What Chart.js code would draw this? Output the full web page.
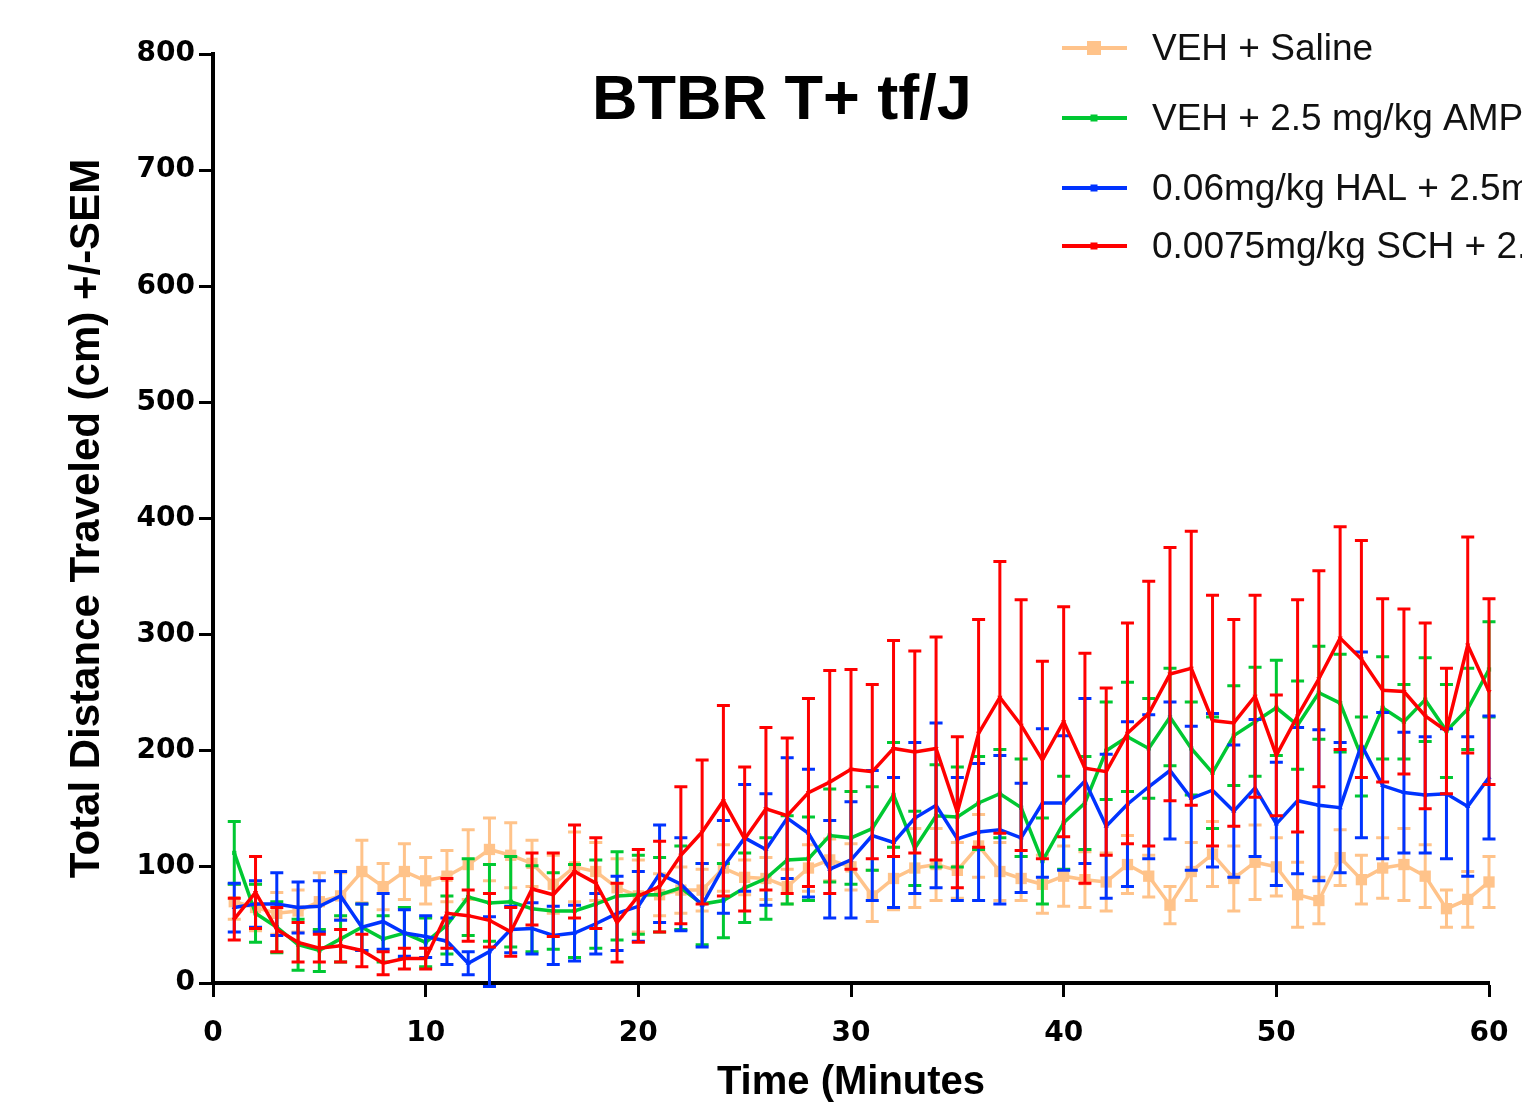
<!DOCTYPE html>
<html><head><meta charset="utf-8">
<script src="https://cdn.jsdelivr.net/npm/chart.js@4.4.1/dist/chart.umd.min.js"></script>
<style>html,body{margin:0;padding:0;background:#fff;overflow:hidden}</style>
</head><body>
<canvas id="c" width="1522" height="1107"></canvas>
<script>
const minutes = [1,2,3,4,5,6,7,8,9,10,11,12,13,14,15,16,17,18,19,20,21,22,23,24,25,26,27,28,29,30,31,32,33,34,35,36,37,38,39,40,41,42,43,44,45,46,47,48,49,50,51,52,53,54,55,56,57,58,59,60];

const seriesLabels = ['VEH + Saline','VEH + 2.5 mg/kg AMP','0.06mg/kg HAL + 2.5mg/kg AMP','0.0075mg/kg SCH + 2.5mg/kg AMP'];

const salineMean = [70,65,60,62,70,75,96,83,96,88, 92,102,115,110,103,85,100,96,82,75, 76,80,80,99,91,90,83,99,106,100, 75,90,99,102,97,118,96,90,85,92, 89,87,102,92,67,96,111,90,104,100, 76,71,108,89,99,102,92,64,72,87];
const salineSem  = [15,20,18,18,25,20,27,20,24,20, 22,30,27,28,20,25,30,25,25,31, 18,20,18,20,15,18,15,20,18,20, 22,27,34,31,24,27,25,19,25,26, 24,25,25,18,16,25,28,28,32,25, 28,20,24,21,26,31,27,16,24,22];

const ampMean = [112,60,48,33,28,38,48,38,43,35, 50,74,69,70,64,62,62,68,75,76, 76,82,68,71,82,90,106,107,127,125, 133,162,116,144,143,155,163,151,105,138, 155,200,212,202,229,202,181,213,225,237, 222,250,241,195,237,225,244,217,236,270];
const ampSem  = [27,25,22,22,18,20,20,20,22,21, 25,33,33,39,37,33,40,38,38,34, 32,36,35,32,30,35,38,36,40,40, 36,45,32,44,43,40,38,42,37,40, 40,42,47,43,42,40,48,43,47,41, 38,40,42,34,44,32,36,40,35,41];

const halMean = [65,68,68,65,66,75,48,53,43,40, 36,17,27,46,47,41,43,51,60,66, 94,85,67,100,125,115,142,129,98,106, 127,121,142,153,124,130,132,125,155,155, 174,135,154,169,183,159,166,148,168,137, 157,153,151,205,170,164,162,163,152,177];
const halSem  = [21,20,27,22,22,21,20,24,20,18, 20,10,30,20,22,25,24,26,32,30, 42,40,36,40,46,48,52,55,42,50, 56,56,65,71,53,59,64,47,64,58, 71,62,71,62,59,62,66,57,59,53, 63,65,56,80,63,52,50,56,60,53];

const schMean = [55,78,46,35,30,32,28,17,21,21, 60,58,54,44,81,76,96,86,52,75, 83,110,130,157,124,150,144,164,173,184, 182,202,199,202,147,215,246,222,192,225, 185,182,215,232,266,271,226,224,247,196, 230,262,297,279,252,251,230,217,291,251];
const schSem  = [18,31,19,17,12,14,14,10,9,9, 30,22,23,21,31,36,40,39,34,40, 39,59,62,82,62,70,67,81,96,86, 75,93,87,96,65,98,117,108,85,99, 99,72,95,114,109,118,108,89,87,52, 100,93,96,102,79,71,80,54,93,80];

const xTicks = [0,10,20,30,40,50,60];
const yTicks = [0,100,200,300,400,500,600,700,800];
const chartTitle = 'BTBR T+ tf/J';
const xTitle = 'Time (Minutes';
const yTitle = 'Total Distance Traveled (cm) +/-SEM';

const colors = ['#FFC38A','#00C832','#0033FF','#FF0000'];
const means = [salineMean, ampMean, halMean, schMean];
const sems = [salineSem, ampSem, halSem, schSem];
const styles = [
  {pointStyle:'rect', radius:8, rot:0, order:3},
  {pointStyle:'rect', radius:3, rot:0, order:2},
  {pointStyle:'triangle', radius:3, rot:0, order:1},
  {pointStyle:'triangle', radius:3, rot:180, order:0}
];

const datasets = means.map((m, k) => ({
  label: seriesLabels[k],
  data: minutes.map((t, i) => ({x: t, y: m[i]})),
  sem: sems[k],
  borderColor: colors[k],
  backgroundColor: colors[k],
  borderWidth: 3.5,
  pointStyle: styles[k].pointStyle,
  pointRadius: styles[k].radius,
  pointRotation: styles[k].rot,
  pointBorderWidth: 0,
  tension: 0,
  order: styles[k].order,
  clip: false
}));

const errorBars = {
  id: 'errorBars',
  beforeDatasetDraw(chart, args) {
    const ds = chart.data.datasets[args.index];
    const ys = chart.scales.y;
    const ctx = chart.ctx;
    ctx.save();
    ctx.strokeStyle = ds.borderColor;
    ctx.lineWidth = 3;
    ctx.lineCap = 'butt';
    args.meta.data.forEach((pt, i) => {
      const m = ds.data[i].y, e = ds.sem[i];
      const yt = ys.getPixelForValue(m + e), yb = ys.getPixelForValue(m - e);
      const x = pt.x, w = 6.5;
      ctx.beginPath();
      ctx.moveTo(x, yt); ctx.lineTo(x, yb);
      ctx.moveTo(x - w, yt); ctx.lineTo(x + w, yt);
      ctx.moveTo(x - w, yb); ctx.lineTo(x + w, yb);
      ctx.stroke();
    });
    ctx.restore();
  }
};

const legendRows = [48, 118, 188, 246];
const customDecor = {
  id: 'customDecor',
  afterDraw(chart) {
    const ctx = chart.ctx;
    ctx.save();
    ctx.fillStyle = '#000';
    ctx.font = 'bold 63px "Liberation Sans", Arial, sans-serif';
    ctx.textBaseline = 'middle';
    ctx.textAlign = 'left';
    ctx.fillText(chartTitle, 592, 102);
    chart.data.datasets.forEach((ds, k) => {
      const y = legendRows[k];
      ctx.strokeStyle = ds.borderColor;
      ctx.lineWidth = 4;
      ctx.beginPath(); ctx.moveTo(1062, y); ctx.lineTo(1127, y); ctx.stroke();
      ctx.fillStyle = ds.borderColor;
      const s = k === 0 ? 14 : 7;
      ctx.fillRect(1094 - s/2, y - s/2, s, s);
      ctx.fillStyle = '#111';
      ctx.font = '37px "Liberation Sans", Arial, sans-serif';
      ctx.fillText(ds.label, 1152, y + 2);
    });
    ctx.restore();
  }
};

const tickFont = {family: '"DejaVu Sans", sans-serif', weight: 'bold', size: 28};
const titleFont = {family: '"Liberation Sans", Arial, sans-serif', weight: 'bold', size: 40};
const yTitleFont = {family: '"Liberation Sans", Arial, sans-serif', weight: 'bold', size: 42};

new Chart(document.getElementById('c'), {
  type: 'line',
  data: {datasets},
  plugins: [errorBars, customDecor],
  options: {
    responsive: false,
    animation: false,
    devicePixelRatio: 1,
    layout: {padding: {left: 0, right: 33, top: 54, bottom: 0}},
    plugins: {legend: {display: false}, title: {display: false}, tooltip: {enabled: false}},
    scales: {
      x: {
        type: 'linear', min: 0, max: 60,
        afterBuildTicks: s => { s.ticks = xTicks.map(v => ({value: v})); },
        ticks: {font: tickFont, color: '#000', padding: 20, maxRotation: 0, autoSkip: false},
        grid: {drawOnChartArea: false, drawTicks: true, tickLength: 14, tickWidth: 3, tickColor: '#000'},
        border: {display: true, color: '#000', width: 4},
        title: {display: true, text: xTitle, font: titleFont, color: '#000', padding: {top: 0, bottom: 0}},
        afterFit: s => { s.height = 124; s.paddingLeft = 0; s.paddingRight = 0; }
      },
      y: {
        type: 'linear', min: 0, max: 800,
        afterBuildTicks: s => { s.ticks = yTicks.map(v => ({value: v})); },
        ticks: {font: tickFont, color: '#000', padding: 4, autoSkip: false},
        grid: {drawOnChartArea: false, drawTicks: true, tickLength: 14, tickWidth: 3, tickColor: '#000'},
        border: {display: true, color: '#000', width: 4},
        title: {display: true, text: yTitle, font: yTitleFont, color: '#000', padding: {top: 62, bottom: 0}},
        afterFit: s => { s.width = 213; }
      }
    }
  }
});
</script>
</body></html>
